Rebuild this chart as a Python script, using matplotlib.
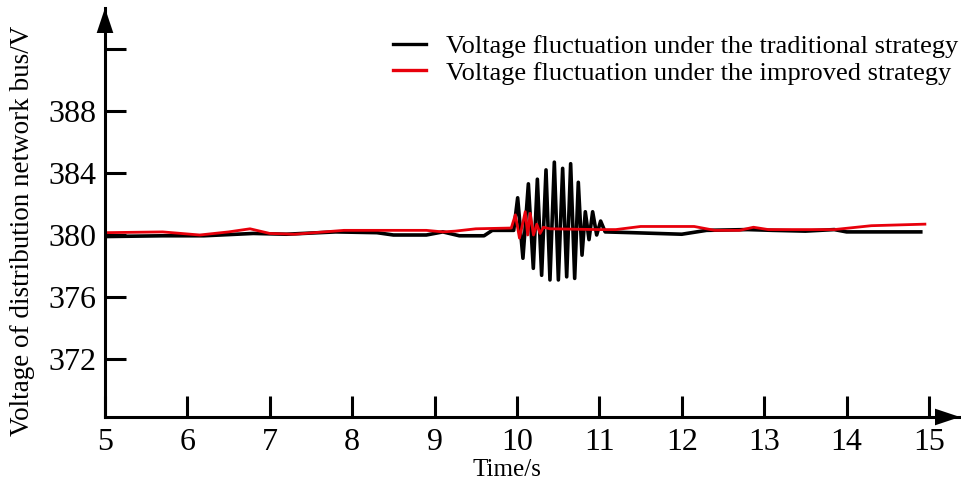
import matplotlib.pyplot as plt
from matplotlib.lines import Line2D

plt.rcParams['font.family'] = ['Liberation Serif', 'DejaVu Serif']

# traditional strategy (black): time in s, bus voltage in V
t_trad = [5.0, 5.7, 6.2, 6.6, 6.8, 7.2, 7.8, 8.3, 8.5, 8.9, 9.1, 9.3, 9.6, 9.7, 9.96,
          10.008, 10.072, 10.138, 10.198, 10.247, 10.299, 10.352, 10.40, 10.453, 10.502,
          10.554, 10.603, 10.651, 10.70, 10.744, 10.789, 10.829, 10.874, 10.918, 10.967,
          11.015, 11.07, 11.4, 11.7, 12.0, 12.3, 12.8, 13.1, 13.5, 13.85, 14.0, 14.9]
v_trad = [379.9, 379.95, 379.95, 380.05, 380.1, 380.05, 380.2, 380.15, 380.0, 380.0, 380.2,
          379.95, 379.95, 380.3, 380.3,
          382.4, 378.5, 383.3, 377.85, 383.6, 377.4, 384.2, 377.1, 384.7, 377.1,
          384.3, 377.3, 384.6, 377.2, 383.4, 378.7, 381.5, 379.7, 381.5, 380.0,
          380.9, 380.2, 380.15, 380.1, 380.05, 380.3, 380.35, 380.3, 380.25, 380.35, 380.2, 380.2]

# improved strategy (red)
t_impr = [5.0, 5.7, 6.15, 6.5, 6.76, 7.0, 7.3, 7.9, 8.4, 8.9, 9.1, 9.25, 9.5, 9.93,
          9.98, 10.03, 10.10, 10.13, 10.16, 10.20, 10.24, 10.28, 10.32, 10.4,
          11.0, 11.2, 11.5, 12.15, 12.4, 12.7, 12.87, 13.05, 13.85, 14.3, 14.95]
v_impr = [380.15, 380.2, 380.0, 380.2, 380.4, 380.1, 380.05, 380.3, 380.3, 380.3, 380.2,
          380.25, 380.4, 380.45,
          381.3, 379.8, 381.5, 380.0, 381.4, 380.0, 380.7, 380.1, 380.5, 380.4,
          380.35, 380.35, 380.55, 380.55, 380.3, 380.3, 380.5, 380.35, 380.35, 380.6, 380.7]

x_ticks = [5, 6, 7, 8, 9, 10, 11, 12, 13, 14, 15]
y_ticks = [372, 376, 380, 384, 388, 392]
y_tick_labels = ['372', '376', '380', '384', '388', '']
series_names = ['Voltage fluctuation under the traditional strategy',
                'Voltage fluctuation under the improved strategy']

W, H = 962, 483
fig = plt.figure(figsize=(W / 100, H / 100), dpi=100)
ax = fig.add_axes([105 / W, (H - 417) / H, (960 - 105) / W, (417 - 8) / H])

ax.plot(t_trad, v_trad, color='black', lw=2.6)
ax.plot(t_impr, v_impr, color='#e8000b', lw=2.0)

ax.set_xlim(5, 5 + 855 / 82.4)
ax.set_ylim(380 - 182 / 15.5, 380 + 227 / 15.5)

for side in ['top', 'right']:
    ax.spines[side].set_visible(False)
for side in ['left', 'bottom']:
    ax.spines[side].set_linewidth(2.2)

ax.set_xticks(x_ticks)
ax.set_yticks(y_ticks)
ax.set_yticklabels(y_tick_labels)
ax.tick_params(direction='in', length=15, width=2.2, labelsize=23)
ax.tick_params(axis='x', pad=8)
ax.tick_params(axis='y', pad=6)

# arrow heads on the axes
arrow = dict(arrowstyle='-|>,head_length=1.8,head_width=0.6', mutation_scale=10,
             color='black', lw=0, shrinkA=0, shrinkB=0)
ax.annotate('', xy=(0, 1), xycoords='axes fraction', xytext=(0, -20),
            textcoords='offset points', arrowprops=arrow, annotation_clip=False)
ax.annotate('', xy=(1, 0), xycoords='axes fraction', xytext=(-20, 0),
            textcoords='offset points', arrowprops=arrow, annotation_clip=False)

ax.set_xlabel('Time/s', fontsize=18)
ax.set_ylabel('Voltage of distribution network bus/V', fontsize=19.5)
ax.xaxis.set_label_coords(0.470, -0.13)
ax.yaxis.set_label_coords(-0.097, 0.455)
ax.xaxis.label.set_va('center')
ax.yaxis.label.set_va('center')

handles = [Line2D([], [], color='black', lw=2.4), Line2D([], [], color='#e8000b', lw=2.4)]
ax.legend(handles, series_names, loc='upper right', bbox_to_anchor=(958 / W, 1 - 35 / H),
          bbox_transform=fig.transFigure, frameon=False, fontsize=19,
          handlelength=1.25, handletextpad=0.75, borderaxespad=0, borderpad=0,
          labelspacing=0.1)

fig.savefig('out.png', dpi=100)
